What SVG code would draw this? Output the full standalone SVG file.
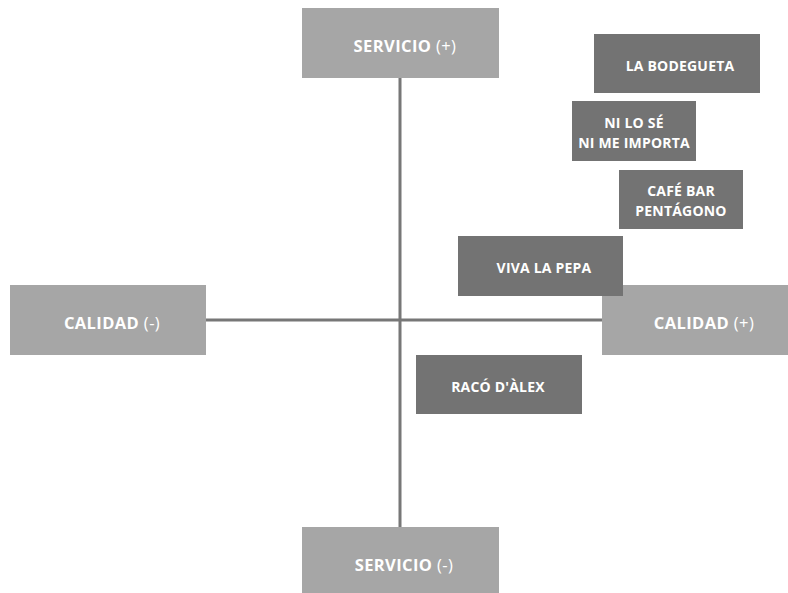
<svg xmlns="http://www.w3.org/2000/svg" width="788" height="593" viewBox="0 0 788 593">
<style>
.axis{fill:#a6a6a6}
.item{fill:#737373}
.t{font-family:"Open Sans","Liberation Sans",sans-serif;font-weight:700;fill:#ffffff;text-anchor:middle}
.big{font-size:16.5px;letter-spacing:0.4px}
.sm{font-size:14px;letter-spacing:0.2px}
.p{font-weight:400}
.ln{stroke:#777777;stroke-width:3;fill:none}
</style>
<rect width="788" height="593" fill="#ffffff"/>
<g id="connectors">
<line class="ln" x1="400" y1="78" x2="400" y2="527"/>
<line class="ln" x1="206" y1="320" x2="602" y2="320"/>
</g>
<g id="servicio-plus"><rect class="axis" x="302" y="8" width="197" height="70"/><text class="t big" x="405" y="52">SERVICIO <tspan class="p">(+)</tspan></text></g>
<g id="servicio-minus"><rect class="axis" x="302" y="527" width="197" height="66"/><text class="t big" x="404" y="571">SERVICIO <tspan class="p">(-)</tspan></text></g>
<g id="calidad-minus"><rect class="axis" x="10" y="285" width="196" height="70"/><text class="t big" x="112" y="329">CALIDAD <tspan class="p">(-)</tspan></text></g>
<g id="calidad-plus"><rect class="axis" x="602" y="285" width="186" height="70"/><text class="t big" x="704" y="329">CALIDAD <tspan class="p">(+)</tspan></text></g>
<g id="la-bodegueta"><rect class="item" x="594" y="34" width="166" height="59"/><text class="t sm" x="680" y="71">LA BODEGUETA</text></g>
<g id="ni-lo-se"><rect class="item" x="572" y="101" width="124" height="60"/><text class="t sm" x="634" y="128">NI LO SÉ</text><text class="t sm" x="634" y="148">NI ME IMPORTA</text></g>
<g id="cafe-bar"><rect class="item" x="619" y="170" width="124" height="59"/><text class="t sm" x="681" y="196">CAFÉ BAR</text><text class="t sm" x="681" y="216">PENTÁGONO</text></g>
<g id="viva-la-pepa"><rect class="item" x="458" y="236" width="165" height="60"/><text class="t sm" x="544" y="273">VIVA LA PEPA</text></g>
<g id="raco-dalex"><rect class="item" x="416" y="355" width="166" height="59"/><text class="t sm" x="498" y="392">RACÓ D'ÀLEX</text></g>
</svg>
